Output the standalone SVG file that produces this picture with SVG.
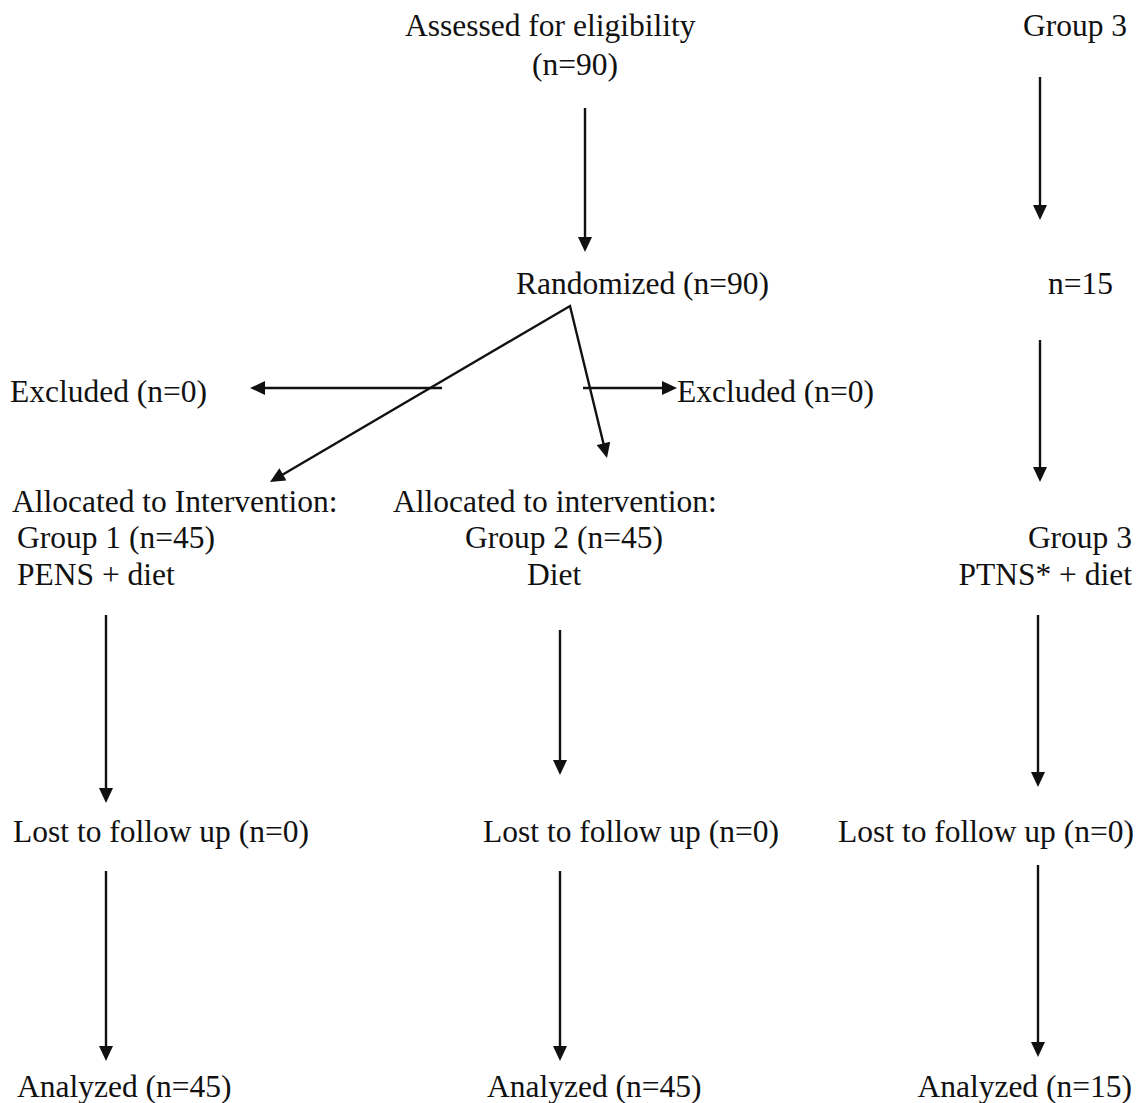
<svg xmlns="http://www.w3.org/2000/svg" width="1140" height="1103" viewBox="0 0 1140 1103">
  <style>
    text { font-family: "Liberation Serif", "Times New Roman", serif; font-size: 31.5px; fill: #111; }
    .c { stroke: #111; stroke-width: 2.4; fill: none; }
    .a { marker-end: url(#ah); }
  </style>
  <defs>
    <marker id="ah" markerUnits="userSpaceOnUse" markerWidth="16" markerHeight="14" viewBox="0 0 15 14" refX="7" refY="7" orient="auto-start-reverse">
      <path d="M0,0 L15,7 L0,14 z" fill="#111"/>
    </marker>
  </defs>
  <rect width="1140" height="1103" fill="#fff"/>

  <g id="connectors">
    <line class="c a" x1="585" y1="108" x2="585" y2="244"/>
    <line class="c a" x1="1040" y1="77" x2="1040" y2="212"/>
    <line class="c a" x1="1040" y1="340" x2="1040" y2="474"/>
    <path class="c" d="M276.9,477.95 L570,306 L605.1,450.2" marker-start="url(#ah)" marker-end="url(#ah)" stroke-linejoin="miter"/>
    <line class="c a" x1="442" y1="388" x2="258" y2="388"/>
    <line class="c a" x1="583" y1="388" x2="669" y2="388"/>
    <line class="c a" x1="106" y1="615" x2="106" y2="795"/>
    <line class="c a" x1="560" y1="630" x2="560" y2="767"/>
    <line class="c a" x1="1038" y1="615" x2="1038" y2="779"/>
    <line class="c a" x1="106" y1="871" x2="106" y2="1053"/>
    <line class="c a" x1="560" y1="871" x2="560" y2="1053"/>
    <line class="c a" x1="1038" y1="865" x2="1038" y2="1049"/>
  </g>

  <g id="assessed">
    <text x="405" y="36">Assessed for eligibility</text>
    <text x="532" y="75">(n=90)</text>
  </g>
  <g id="group3-top"><text x="1023" y="36">Group 3</text></g>
  <g id="randomized"><text x="516" y="294">Randomized (n=90)</text></g>
  <g id="n15"><text x="1048" y="294">n=15</text></g>
  <g id="excluded-left"><text x="10" y="402">Excluded (n=0)</text></g>
  <g id="excluded-right"><text x="677" y="402">Excluded (n=0)</text></g>
  <g id="group1">
    <text x="12" y="512">Allocated to Intervention:</text>
    <text x="17" y="548">Group 1 (n=45)</text>
    <text x="17" y="585">PENS + diet</text>
  </g>
  <g id="group2">
    <text x="393" y="512">Allocated to intervention:</text>
    <text x="465" y="548">Group 2 (n=45)</text>
    <text x="527" y="585">Diet</text>
  </g>
  <g id="group3">
    <text x="1132" y="548" text-anchor="end">Group 3</text>
    <text x="1132" y="585" text-anchor="end">PTNS* + diet</text>
  </g>
  <g id="lost1"><text x="13" y="842">Lost to follow up (n=0)</text></g>
  <g id="lost2"><text x="483" y="842">Lost to follow up (n=0)</text></g>
  <g id="lost3"><text x="838" y="842">Lost to follow up (n=0)</text></g>
  <g id="analyzed1"><text x="17" y="1097">Analyzed (n=45)</text></g>
  <g id="analyzed2"><text x="487" y="1097">Analyzed (n=45)</text></g>
  <g id="analyzed3"><text x="1132" y="1097" text-anchor="end">Analyzed (n=15)</text></g>
</svg>
